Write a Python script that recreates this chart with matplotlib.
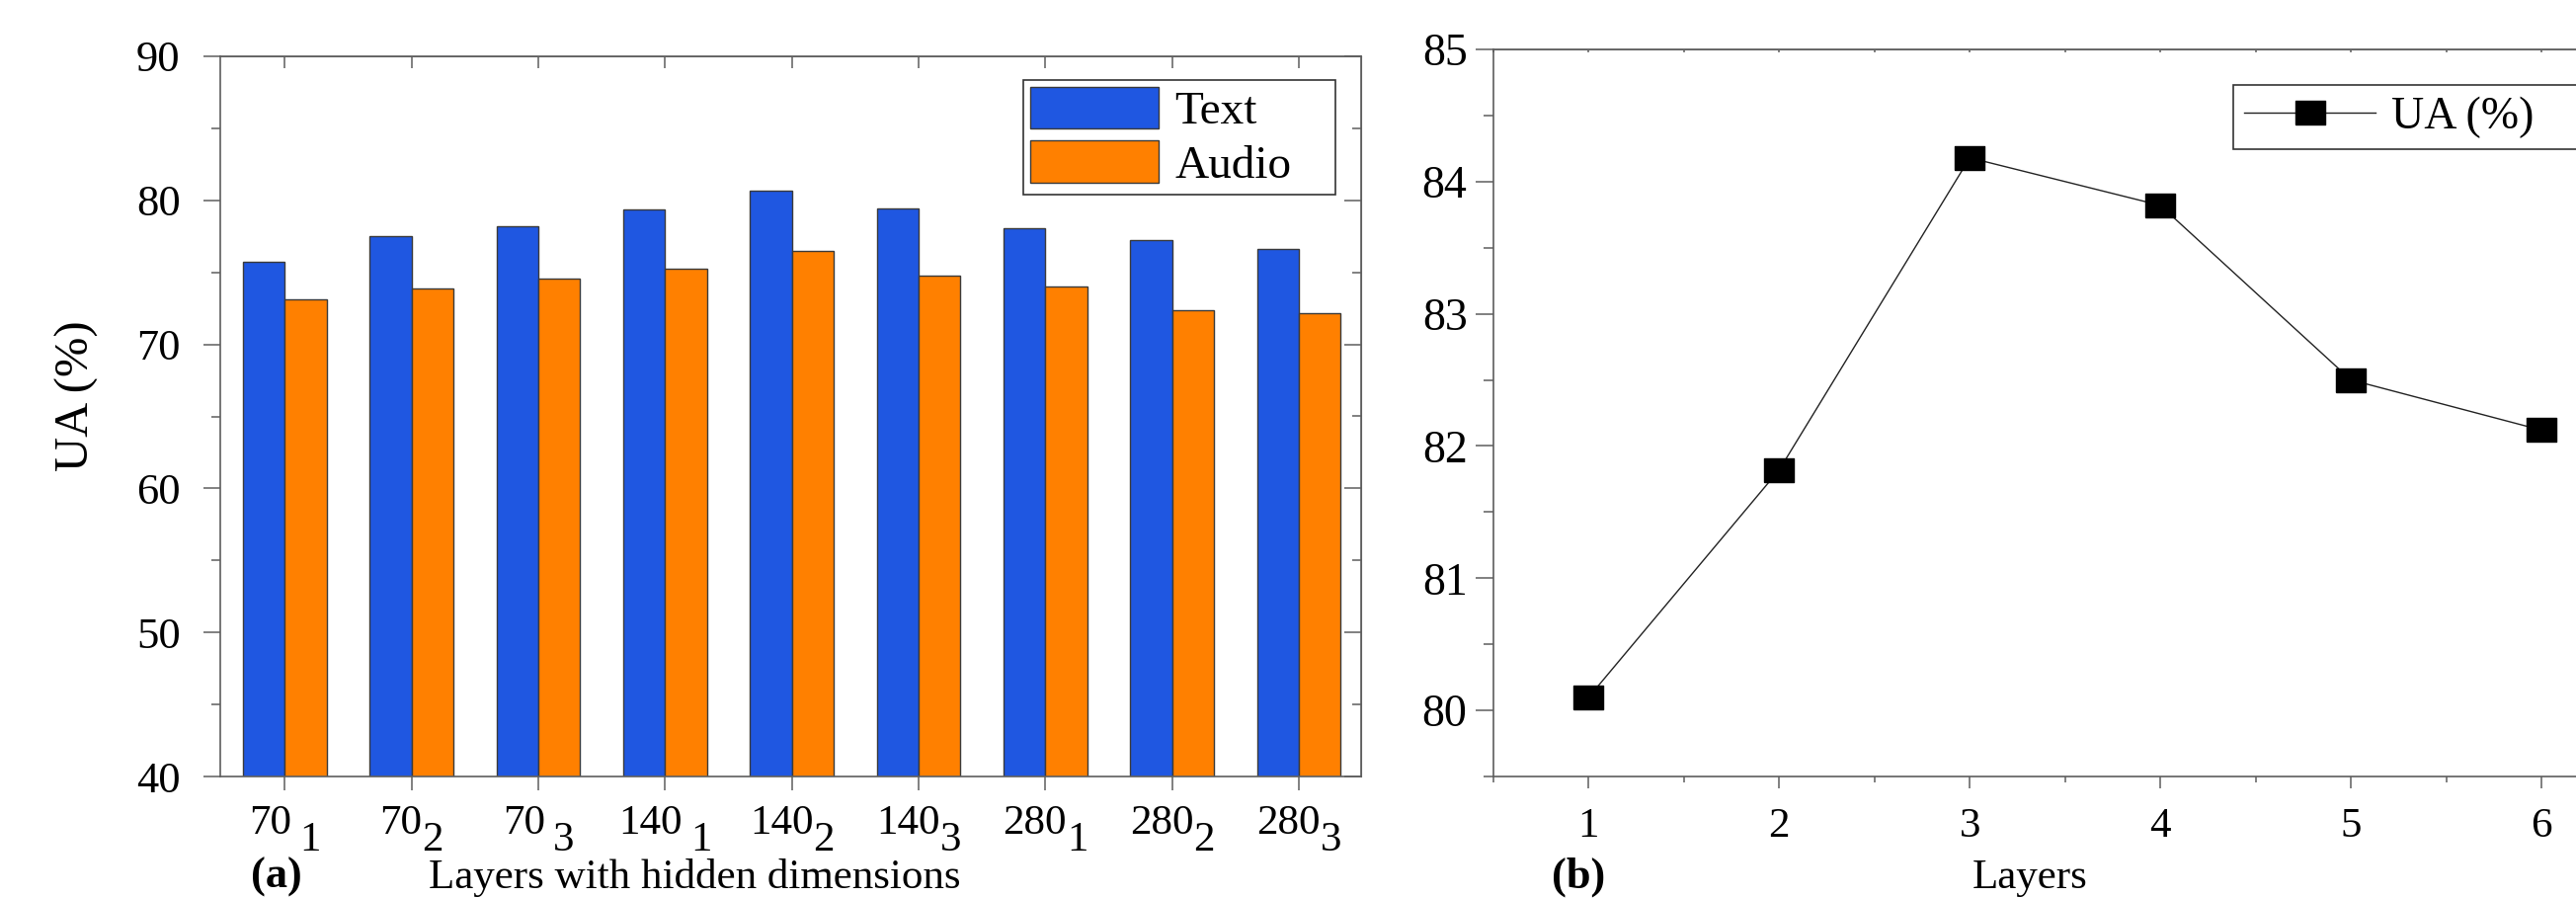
import numpy as np
import matplotlib
matplotlib.use('Agg')
import matplotlib.pyplot as plt
from matplotlib.ticker import MultipleLocator, NullFormatter

plt.rcParams['font.family'] = ['Liberation Serif', 'DejaVu Serif']

# (a) UA per layer / hidden dimension setting
layer_dims = ['70', '70', '70', '140', '140', '140', '280', '280', '280']
layer_subs = ['1', '2', '3', '1', '2', '3', '1', '2', '3']
spaced = [True, False, True, True, False, False, False, False, False]
text_ua = [75.7, 77.55, 78.2, 79.35, 80.7, 79.45, 78.1, 77.25, 76.65]
audio_ua = [73.15, 73.9, 74.55, 75.25, 76.5, 74.8, 74.05, 72.4, 72.2]

# (b) UA vs number of layers
n_layers = [1, 2, 3, 4, 5, 6]
layer_ua = [80.1, 81.82, 84.18, 83.82, 82.5, 82.12]

W, H = 2608, 909
fig = plt.figure(figsize=(W / 100, H / 100), dpi=100)

spine_col = '#5e5e5e'
blue = '#1f57e1'
orange = '#ff8000'
fs_tick = 31
fs_ytick = 32


def box(x0, y0, x1, y1):
    # pixel box (top-left origin) -> figure fraction rect
    return [x0 / W, 1 - y1 / H, (x1 - x0) / W, (y1 - y0) / H]


# ---------- (a) ----------
ax1 = fig.add_axes(box(223, 57, 1378, 786))
x = np.arange(len(text_ua))
w = 0.33
ax1.bar(x - w / 2, text_ua, w, color=blue, edgecolor='#3a3a3a', lw=1, label='Text')
ax1.bar(x + w / 2, audio_ua, w, color=orange, edgecolor='#3a3a3a', lw=1, label='Audio')
ax1.set_xlim(-0.51, 8.49)
ax1.set_ylim(40, 90)
ax1.yaxis.set_major_locator(MultipleLocator(10))
ax1.yaxis.set_minor_locator(MultipleLocator(5))
ax1.set_xticks(x)
ax1.xaxis.set_major_formatter(NullFormatter())
ax1.tick_params(axis='y', which='major', direction='out', length=12, width=1.1,
                color=spine_col, labelsize=fs_ytick, pad=17)
ax1.tick_params(axis='y', which='minor', direction='out', length=6.5, width=1.1, color=spine_col)
ax1.tick_params(axis='x', which='major', direction='out', length=10, width=1.1, color=spine_col)
for sp in ax1.spines.values():
    sp.set_color(spine_col)
    sp.set_linewidth(1.2)

sec_r = ax1.secondary_yaxis('right')
sec_r.yaxis.set_major_locator(MultipleLocator(10))
sec_r.yaxis.set_minor_locator(MultipleLocator(5))
sec_r.yaxis.set_major_formatter(NullFormatter())
sec_r.tick_params(which='major', direction='in', length=12, width=1.1, color=spine_col)
sec_r.tick_params(which='minor', direction='in', length=6.5, width=1.1, color=spine_col)
sec_r.spines['right'].set_color(spine_col)

sec_t = ax1.secondary_xaxis('top')
sec_t.set_xticks(x)
sec_t.xaxis.set_major_formatter(NullFormatter())
sec_t.tick_params(direction='in', length=8.5, width=1.1, color=spine_col)
sec_t.spines['top'].set_color(spine_col)

# tick labels with full-size subscripts
digit = 0.5 * fs_tick
for i, (d, s, sp) in enumerate(zip(layer_dims, layer_subs, spaced)):
    g = 6 if sp else 0
    mc = -digit / 2 - g / 2
    ax1.annotate(d, xy=(i, 0), xycoords=('data', 'axes fraction'),
                 xytext=(mc, -42), textcoords='offset points',
                 ha='center', va='baseline', fontsize=fs_tick)
    ax1.annotate(s, xy=(i, 0), xycoords=('data', 'axes fraction'),
                 xytext=(mc + len(d) * digit / 2 + g, -54), textcoords='offset points',
                 ha='left', va='baseline', fontsize=fs_tick)

leg1 = ax1.legend(loc='upper left', bbox_to_anchor=box(1036, 81, 1352, 195),
                  bbox_transform=fig.transFigure, mode='expand', borderaxespad=0,
                  fontsize=34, handlelength=2.75, handleheight=1.0, handletextpad=0.35,
                  labelspacing=0.15, borderpad=0.15, fancybox=False, framealpha=1,
                  edgecolor='#333333')
leg1.get_frame().set_linewidth(1.2)

fig.text(78 / W, 1 - 401 / H, 'UA (%)', rotation=90, ha='center', va='center', fontsize=35)
fig.text(280 / W, 1 - 899 / H, '(a)', ha='center', va='baseline', fontsize=32, fontweight='bold')
fig.text(703 / W, 1 - 899 / H, 'Layers with hidden dimensions', ha='center', va='baseline',
         fontsize=31)

# ---------- (b) ----------
ax2 = fig.add_axes(box(1512, 50, 2669.5, 786))
rect = [(-1, -0.79), (1, -0.79), (1, 0.79), (-1, 0.79), (-1, -0.79)]
ax2.plot(n_layers, layer_ua, color='#222222', lw=1, marker=rect, ms=21,
         mfc='k', mec='k', label='UA (%)')
ax2.set_xlim(0.5, 6.5)
ax2.set_ylim(79.5, 85)
ax2.xaxis.set_major_locator(MultipleLocator(1))
ax2.xaxis.set_minor_locator(MultipleLocator(0.5))
ax2.yaxis.set_major_locator(MultipleLocator(1))
ax2.yaxis.set_minor_locator(MultipleLocator(0.5))
ax2.tick_params(axis='y', which='major', direction='out', length=13, width=1.1,
                color=spine_col, labelsize=33, pad=6)
ax2.tick_params(axis='y', which='minor', direction='out', length=7, width=1.1, color=spine_col)
ax2.tick_params(axis='x', which='major', direction='out', length=8.5, width=1.1,
                color=spine_col, labelsize=fs_tick, pad=14)
ax2.tick_params(axis='x', which='minor', direction='out', length=4.5, width=1.1, color=spine_col)
for sp in ax2.spines.values():
    sp.set_color(spine_col)
    sp.set_linewidth(1.2)

sec_t2 = ax2.secondary_xaxis('top')
sec_t2.xaxis.set_major_locator(MultipleLocator(1))
sec_t2.xaxis.set_minor_locator(MultipleLocator(0.5))
sec_t2.xaxis.set_major_formatter(NullFormatter())
sec_t2.tick_params(which='both', direction='in', length=2.5, width=1.1, color=spine_col)
sec_t2.spines['top'].set_color(spine_col)

leg2 = ax2.legend(loc='upper left', bbox_to_anchor=box(2261, 86, 2720, 159),
                  bbox_transform=fig.transFigure, mode='expand', borderaxespad=0,
                  fontsize=33, handlelength=2.9, handletextpad=0.35, borderpad=0.25,
                  numpoints=1, fancybox=False, framealpha=1, edgecolor='#333333')
leg2.get_frame().set_linewidth(1.2)

fig.text(1598 / W, 1 - 899 / H, '(b)', ha='center', va='baseline', fontsize=32, fontweight='bold')
fig.text(2055 / W, 1 - 899 / H, 'Layers', ha='center', va='baseline', fontsize=31)

fig.savefig('out.png', dpi=100)
